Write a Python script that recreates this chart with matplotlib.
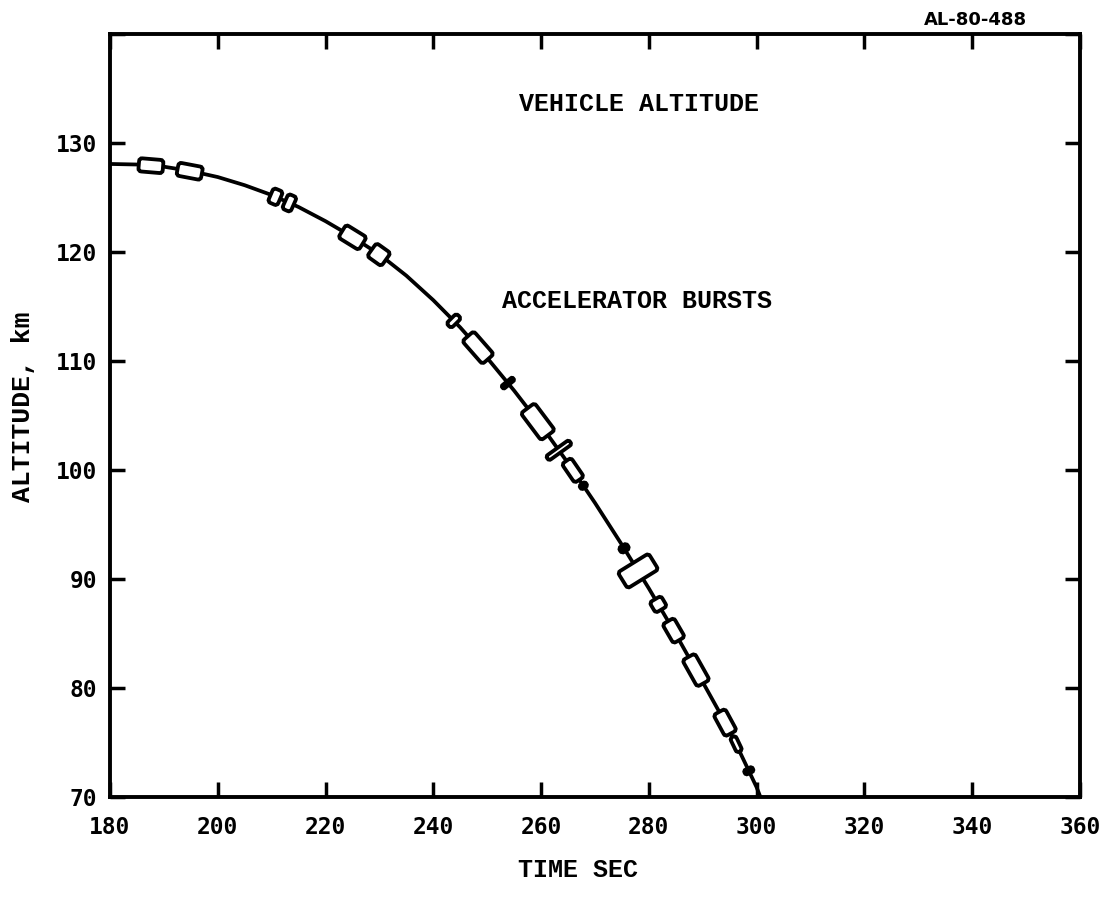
import numpy as np
import matplotlib
matplotlib.use('Agg')
import matplotlib.pyplot as plt
from matplotlib.patches import FancyBboxPatch
from matplotlib.transforms import Affine2D

# vehicle trajectory, altitude (km) against flight time (s)
time_s = [180, 185, 190, 195, 200, 205, 210, 215, 220, 225, 230, 235, 240,
          245, 250, 255, 260, 265, 270, 275, 280, 285, 290, 295, 300, 300.7]
alt_km = [128.1, 128.05, 127.85, 127.45, 126.9, 126.15, 125.25, 124.15,
          122.85, 121.4, 119.8, 117.85, 115.6, 113.1, 110.3, 107.3, 104.1,
          100.65, 97.0, 93.15, 89.15, 84.95, 80.55, 76.1, 70.9, 70.0]

# accelerator bursts: start / end time in seconds
burst_start = [185.0, 192.2, 209.5, 212.2, 222.8, 228.3, 243.1, 246.2, 253.4,
               257.3, 262.8, 264.5, 267.4, 274.9, 276.9, 281.0, 283.4, 287.2,
               292.9, 295.4, 298.2]
burst_end = [190.2, 197.4, 211.9, 214.4, 227.2, 231.5, 244.5, 250.4, 254.3,
             261.5, 263.8, 267.3, 268.3, 275.9, 279.1, 282.5, 285.8, 290.3,
             295.4, 297.0, 298.9]
# drawn width of each burst symbol (px) and solid ones
burst_w = [17, 17, 19, 20, 19, 20, 18, 19, 18, 21, 32, 15, 11, 13, 40, 17,
           17, 18, 17, 10, 13]
burst_solid = [0, 0, 0, 0, 0, 0, 0, 0, 1, 0, 0, 0, 1, 1, 0, 0, 0, 0, 0, 0, 1]

xticks = list(range(180, 361, 20))
yticks = list(range(70, 141, 10))

mono = 'Liberation Mono'
digits = 'DejaVu Sans Mono'

fig = plt.figure(figsize=(11.04, 9.05), dpi=100)
ax = fig.add_axes([0.0996, 0.1193, 0.8786, 0.8428])

ax.plot(time_s, alt_km, color='black', lw=2.7, solid_capstyle='butt', zorder=2)

ax.set_xlim(180, 360)
ax.set_ylim(70, 140)
ax.set_xticks(xticks)
ax.set_yticks(yticks)
ax.set_yticklabels([str(v) if v < 140 else '' for v in yticks])
ax.tick_params(direction='in', length=11, width=2.5, top=True, right=True,
               labelsize=16.5)
ax.tick_params(axis='x', pad=14)
ax.tick_params(axis='y', pad=9)
for lab in ax.get_xticklabels() + ax.get_yticklabels():
    lab.set_family(digits)
    lab.set_fontweight('bold')
for sp in ax.spines.values():
    sp.set_linewidth(2.8)

# burst symbols: rounded boxes laid along the trajectory
edge = 3.8
for t0, t1, w, solid in zip(burst_start, burst_end, burst_w, burst_solid):
    p0 = ax.transData.transform((t0, np.interp(t0, time_s, alt_km)))
    p1 = ax.transData.transform((t1, np.interp(t1, time_s, alt_km)))
    c = (p0 + p1) / 2
    d = p1 - p0
    length = np.hypot(d[0], d[1])
    ang = np.degrees(np.arctan2(d[1], d[0]))
    bl = max(length - edge, 1.0)
    bw = max(w - edge, 1.0)
    r = min(3.0, 0.45 * min(bl, bw))
    box = FancyBboxPatch((-bl / 2, -bw / 2), bl, bw,
                         boxstyle='round,pad=0,rounding_size=%.2f' % r,
                         transform=Affine2D().rotate_deg(ang).translate(c[0], c[1]),
                         facecolor='black' if solid else 'white',
                         edgecolor='black', linewidth=edge * 72 / 100, zorder=3)
    ax.add_patch(box)

ax.text(0.545, 0.909, 'VEHICLE ALTITUDE', transform=ax.transAxes,
        family=mono, fontweight='bold', fontsize=18, ha='center', va='center')
ax.text(0.543, 0.650, 'ACCELERATOR BURSTS', transform=ax.transAxes,
        family=mono, fontweight='bold', fontsize=18, ha='center', va='center')

fig.text(578 / 1104, 1 - 870 / 905, 'TIME SEC', family=mono,
         fontweight='bold', fontsize=18, ha='center', va='center')
fig.text(23 / 1104, 1 - 407 / 905, 'ALTITUDE, km', family=mono,
         fontweight='bold', fontsize=19, ha='center', va='center',
         rotation=90)
fig.text(975 / 1104, 1 - 20 / 905, 'AL-80-488', family='DejaVu Sans',
         fontweight='bold', fontsize=13, ha='center', va='center')

fig.savefig('out.png', dpi=100, facecolor='white')
